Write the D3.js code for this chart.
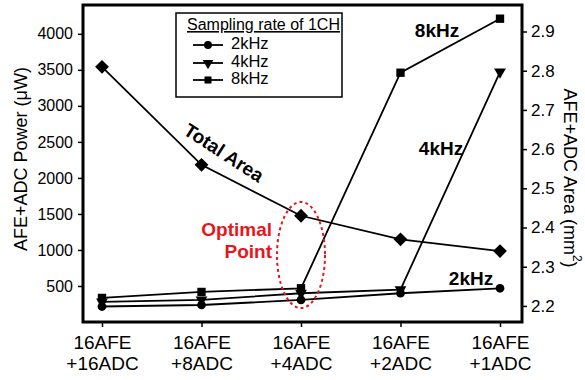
<!DOCTYPE html>
<html>
<head>
<meta charset="utf-8">
<script src="https://cdn.jsdelivr.net/npm/d3@7"></script>
<style>
  body { margin: 0; background: #fff; }
  svg { font-family: "Liberation Sans", Arial, sans-serif; }
</style>
</head>
<body>
<div id="chart"></div>
<script>
// data
const configs = ["16AFE|+16ADC", "16AFE|+8ADC", "16AFE|+4ADC", "16AFE|+2ADC", "16AFE|+1ADC"];
const power2k = [215, 236, 306, 399, 468];
const power4k = [278, 306, 399, 450, 3470];
const power8k = [334, 417, 468, 3460, 4210];
const totalArea = [2.81, 2.56, 2.43, 2.37, 2.34];
const powerTicks = [500, 1000, 1500, 2000, 2500, 3000, 3500, 4000];
const areaTicks = [2.2, 2.3, 2.4, 2.5, 2.6, 2.7, 2.8, 2.9];

const width = 585, height = 380;
const plotL = 83, plotR = 522, plotT = 5, plotB = 322;

const svg = d3.select("#chart").append("svg")
  .attr("width", width)
  .attr("height", height);

const x = d3.scaleLinear().domain([0, configs.length - 1]).range([102, 500]);
const yP = d3.scaleLinear().domain([0, 4400]).range([plotB, plotT]);
const yA = d3.scaleLinear().domain([2.159, 2.9676]).range([plotB, plotT]);

// axes
const xAxis = svg.append("g")
  .attr("transform", `translate(0,${plotB})`)
  .call(d3.axisBottom(x).tickValues(d3.range(configs.length)).tickSize(5).tickFormat(""));
xAxis.selectAll(".tick").each(function (d) {
  const parts = configs[d].split("|");
  const t = d3.select(this).append("text")
    .attr("fill", "#000")
    .attr("text-anchor", "middle")
    .style("font-size", "19px");
  t.append("tspan").attr("x", 0).attr("y", 27).text(parts[0]);
  t.append("tspan").attr("x", 0).attr("y", 48).text(parts[1]);
});

svg.append("g")
  .attr("transform", `translate(${plotL},0)`)
  .call(d3.axisLeft(yP).tickValues(powerTicks).tickSize(5).tickPadding(5).tickFormat(d3.format("d")))
  .selectAll("text").style("font-size", "16px").attr("fill", "#000");

svg.append("g")
  .attr("transform", `translate(${plotR},0)`)
  .call(d3.axisRight(yA).tickValues(areaTicks).tickSize(5).tickPadding(4).tickFormat(d3.format(".1f")))
  .selectAll("text").style("font-size", "17px").attr("fill", "#000");

svg.selectAll(".domain").remove();
svg.selectAll(".tick line").attr("stroke", "#000").attr("stroke-width", 1.5);

// frame
svg.append("rect")
  .attr("x", plotL).attr("y", plotT)
  .attr("width", plotR - plotL).attr("height", plotB - plotT)
  .attr("fill", "none").attr("stroke", "#000").attr("stroke-width", 3);

// axis titles
svg.append("text")
  .attr("transform", `translate(22,159) rotate(-90)`)
  .attr("text-anchor", "middle").attr("dominant-baseline", "middle")
  .style("font-size", "18px")
  .text("AFE+ADC Power (μW)");

const rt = svg.append("text")
  .attr("transform", `translate(569,178) rotate(90)`)
  .attr("text-anchor", "middle").attr("dominant-baseline", "middle")
  .style("font-size", "18px");
rt.append("tspan").text("AFE+ADC Area (mm");
rt.append("tspan").attr("dy", -7).style("font-size", "12px").text("2");
rt.append("tspan").attr("dy", 7).text(")");

// series
const line = y => d3.line().x((d, i) => x(i)).y(d => y(d));

function drawSeries(vals, y, shape, size) {
  svg.append("path").datum(vals)
    .attr("d", line(y))
    .attr("fill", "none").attr("stroke", "#000").attr("stroke-width", 1.8);
  svg.selectAll(null).data(vals).enter().append("path")
    .attr("transform", (d, i) => `translate(${x(i)},${y(d)})` + (shape === "tri" ? " rotate(180)" : shape === "dia" ? " rotate(45)" : ""))
    .attr("d", d3.symbol().type(shape === "tri" ? d3.symbolTriangle : (shape === "circle" ? d3.symbolCircle : d3.symbolSquare)).size(size))
    .attr("fill", "#000");
}

drawSeries(totalArea, yA, "dia", 95);
drawSeries(power2k, yP, "circle", 60);
drawSeries(power4k, yP, "tri", 60);
drawSeries(power8k, yP, "square", 70);

// annotations
svg.append("text").attr("x", 437).attr("y", 37).attr("text-anchor", "middle")
  .style("font-size", "19px").style("font-weight", "bold").text("8kHz");
svg.append("text").attr("x", 441).attr("y", 155).attr("text-anchor", "middle")
  .style("font-size", "19px").style("font-weight", "bold").text("4kHz");
svg.append("text").attr("x", 471).attr("y", 285).attr("text-anchor", "middle")
  .style("font-size", "19px").style("font-weight", "bold").text("2kHz");
svg.append("text")
  .attr("transform", "translate(223,154) rotate(33)")
  .attr("text-anchor", "middle").attr("dominant-baseline", "middle")
  .style("font-size", "19px").style("font-weight", "bold").text("Total Area");

svg.append("ellipse")
  .attr("cx", x(2)).attr("cy", 255).attr("rx", 24).attr("ry", 53)
  .attr("fill", "none").attr("stroke", "#e8151b").attr("stroke-width", 2)
  .attr("stroke-dasharray", "3,3");
svg.append("text").attr("x", 272).attr("y", 236).attr("text-anchor", "end")
  .attr("fill", "#e8151b").style("font-size", "19px").style("font-weight", "bold").text("Optimal");
svg.append("text").attr("x", 272).attr("y", 258).attr("text-anchor", "end")
  .attr("fill", "#e8151b").style("font-size", "19px").style("font-weight", "bold").text("Point");

// legend
const legend = svg.append("g");
legend.append("rect")
  .attr("x", 176).attr("y", 13).attr("width", 166).attr("height", 84)
  .attr("fill", "#fff").attr("stroke", "#000").attr("stroke-width", 1.5);
legend.append("text").attr("x", 187).attr("y", 30)
  .style("font-size", "16px").style("text-decoration", "underline")
  .text("Sampling rate of 1CH");
const legItems = [["2kHz", "circle", 45], ["4kHz", "tri", 63], ["8kHz", "square", 80]];
legItems.forEach(([label, shape, ly]) => {
  legend.append("line").attr("x1", 193).attr("x2", 223).attr("y1", ly).attr("y2", ly)
    .attr("stroke", "#000").attr("stroke-width", 1.8);
  legend.append("path")
    .attr("transform", `translate(208,${ly})` + (shape === "tri" ? " rotate(180)" : ""))
    .attr("d", d3.symbol().type(shape === "tri" ? d3.symbolTriangle : (shape === "circle" ? d3.symbolCircle : d3.symbolSquare)).size(50))
    .attr("fill", "#000");
  legend.append("text").attr("x", 231).attr("y", ly).attr("dominant-baseline", "middle")
    .style("font-size", "16.5px").text(label);
});
</script>
</body>
</html>
